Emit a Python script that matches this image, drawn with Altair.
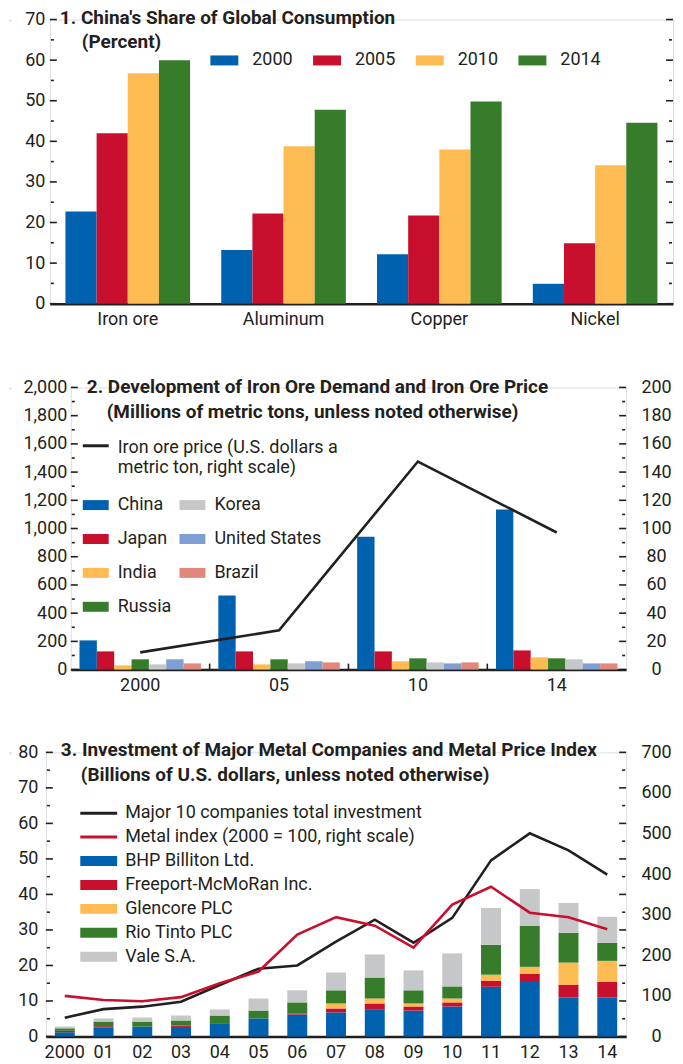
import altair as alt
import pandas as pd

FONT = "Roboto"
INK = "#231F20"
BLUE, RED, YELLOW, GREEN = "#0061AF", "#C8102E", "#FDBB52", "#377C2B"
GRAY, LBLUE, SALMON = "#C6C7C9", "#7F9FD3", "#E0887B"
LFS = 18   # label font size
TFS = 19   # title font size

# ---------------- Panel 1 data ----------------
metals = ["Iron ore", "Aluminum", "Copper", "Nickel"]
share_years = ["2000", "2005", "2010", "2014"]
share_2000 = [22.7, 13.2, 12.2, 4.9]
share_2005 = [42.0, 22.2, 21.7, 14.9]
share_2010 = [56.8, 38.8, 38.0, 34.1]
share_2014 = [60.0, 47.8, 49.8, 44.6]
title1 = ["1. China's Share of Global Consumption", "(Percent)"]

# ---------------- Panel 2 data ----------------
ore_years = ["2000", "05", "10", "14"]
countries = ["China", "Japan", "India", "Russia", "Korea", "United States", "Brazil"]
country_colors = [BLUE, RED, YELLOW, GREEN, GRAY, LBLUE, SALMON]
china = [207, 525, 941, 1134]
japan = [129, 129, 129, 136]
india = [30, 37, 59, 87]
russia = [73, 73, 80, 80]
korea = [37, 44, 51, 73]
usa = [73, 59, 44, 44]
brazil = [44, 51, 51, 44]
iron_price = [12.2, 27.8, 147.5, 97.2]
price_label = "Iron ore price (U.S. dollars a metric ton, right scale)"
title2 = ["2. Development of Iron Ore Demand and Iron Ore Price",
          "(Millions of metric tons, unless noted otherwise)"]

# ---------------- Panel 3 data ----------------
inv_years = ["2000", "01", "02", "03", "04", "05", "06", "07", "08", "09", "10", "11", "12", "13", "14"]
companies = ["BHP Billiton Ltd.", "Freeport-McMoRan Inc.", "Glencore PLC", "Rio Tinto PLC", "Vale S.A."]
company_colors = [BLUE, RED, YELLOW, GREEN, GRAY]
bhp = [1.2, 2.6, 2.8, 2.7, 3.75, 5.1, 6.2, 6.8, 7.7, 7.3, 8.45, 14.0, 15.6, 11.0, 11.0]
freeport = [0.4, 0.3, 0.0, 0.4, 0.0, 0.0, 0.3, 1.1, 1.6, 1.15, 1.15, 1.7, 2.1, 3.6, 4.4]
glencore = [0, 0, 0, 0, 0, 0, 0, 1.4, 1.4, 0.85, 1.1, 1.7, 1.9, 6.2, 5.9]
rio = [0.7, 1.3, 1.4, 1.4, 2.15, 2.2, 3.1, 3.7, 5.9, 3.7, 3.4, 8.4, 11.6, 8.4, 5.1]
vale = [0.5, 0.9, 1.15, 1.4, 1.7, 3.4, 3.4, 5.0, 6.5, 5.6, 9.3, 10.4, 10.3, 8.4, 7.3]
total_invest = [5.3, 7.7, 8.4, 9.8, 14.5, 19.1, 20.0, 26.7, 32.9, 26.4, 33.4, 49.6, 57.2, 52.4, 45.6]
metal_index = [100, 90, 87, 97, 131, 160, 251, 294, 273, 219, 325, 369, 305, 294, 264]
inv_label = "Major 10 companies total investment"
metal_label = "Metal index (2000 = 100, right scale)"
title3 = ["3. Investment of Major Metal Companies and Metal Price Index",
          "(Billions of U.S. dollars, unless noted otherwise)"]


# ---------------- helpers ----------------
def rect_path(w, h=10.0, dy=0.0):
    s = 5.0
    hw, hh, oy = w / 2 / s, h / 2 / s, dy / s
    return f"M{-hw},{oy - hh}H{hw}V{oy + hh}H{-hw}Z"


def line_path(w, dy=0.0):
    s = 5.0
    return f"M{-w / 2 / s},{dy / s}H{w / 2 / s}"


def grouped_keys(groups, members):
    """Band domain: one band per bar, one empty band between groups."""
    keys = []
    for gi, g in enumerate(groups):
        if gi > 0:
            keys.append(f"gap{gi}")
        keys += [f"{g}|{m}" for m in members]
    return keys


def left_axis(values, pad, ext, fmt=None):
    kw = dict(orient="left", values=values, ticks=False, domain=False, grid=False, labelFont=FONT,
              labelFontSize=LFS, labelColor=INK, labelPadding=pad, minExtent=ext, title=None)
    if fmt:
        kw["format"] = fmt
    return alt.Axis(**kw)


def right_axis(values, labels=True):
    return alt.Axis(orient="right", values=values, ticks=False, domain=False, grid=False, labels=labels,
                    labelFont=FONT, labelFontSize=LFS, labelColor=INK, labelAlign="center",
                    labelPadding=30, title=None)


def bottom_axis(**extra):
    kw = dict(orient="bottom", domain=True, domainColor=INK, domainWidth=2.5, ticks=False,
              labelAngle=0, labelFont=FONT, labelFontSize=LFS, labelColor=INK, labelPadding=7,
              labelOverlap=False, title=None)
    kw.update(extra)
    return alt.Axis(**kw)


def tick_rules(values, domain, x1, x2, axis=None):
    return alt.Chart(pd.DataFrame({"v": values})).mark_rule(color=INK, strokeWidth=1.6).encode(
        x=alt.value(x1), x2=alt.value(x2),
        y=alt.Y("v:Q", scale=alt.Scale(domain=domain), axis=axis))


def y_ticks(major, minor, domain, width):
    """Inward major and minor tick marks on both vertical edges."""
    return [tick_rules(major, domain, 0, 7), tick_rules(minor, domain, 1, 4),
            tick_rules(major, domain, width - 7, width), tick_rules(minor, domain, width - 4, width - 1)]


def title_text(text, x, y):
    return alt.Chart(pd.DataFrame({"t": [text]})).mark_text(
        align="left", baseline="middle", font=FONT, fontSize=TFS, fontWeight="bold", color=INK
    ).encode(text="t:N", x=alt.value(x), y=alt.value(y))


def legend(x, y, sym, lo, rowpad=0, colpad=0, columns=1, direction="vertical", stroke=False, expr=None):
    kw = dict(orient="none", legendX=x, legendY=y, direction=direction, columns=columns, title=None,
              symbolType=sym, symbolSize=100, labelFont=FONT, labelFontSize=LFS, labelColor=INK,
              labelOffset=lo, rowPadding=rowpad, columnPadding=colpad, padding=0, labelLimit=400,
              symbolStrokeWidth=3 if stroke else 0)
    if expr:
        kw["labelExpr"] = expr
    return alt.Legend(**kw)


def spacer(w):
    return alt.Chart(pd.DataFrame({"s": [0]})).mark_rect(opacity=0).encode(
        x=alt.value(0), x2=alt.value(w), y=alt.value(0), y2=alt.value(1)
    ).properties(width=w, height=1)


# ---------------- Panel 1 ----------------
W1, H1 = 625, 285
keys1 = grouped_keys(metals, share_years)
half_step1 = W1 / (len(keys1) + 1) / 2
df1 = pd.DataFrame({
    "key": [f"{m}|{y}" for y in share_years for m in metals],
    "year": [y for y in share_years for _ in metals],
    "share": share_2000 + share_2005 + share_2010 + share_2014,
})
bars1 = alt.Chart(df1).mark_bar().encode(
    x=alt.X("key:N", scale=alt.Scale(domain=keys1, paddingInner=0, paddingOuter=0.5),
            axis=bottom_axis(values=[f"{m}|{share_years[1]}" for m in metals], labelOffset=half_step1,
                             labelExpr="split(datum.value, '|')[0]")),
    y=alt.Y("share:Q", scale=alt.Scale(domain=[0, 70]), axis=left_axis(list(range(0, 71, 10)), 5, 37)),
    color=alt.Color("year:N", scale=alt.Scale(domain=share_years, range=[BLUE, RED, YELLOW, GREEN]),
                    legend=legend(166, 32, rect_path(28), 19, colpad=20, columns=4, direction="horizontal")),
)
major1, minor1 = list(range(0, 71, 10)), list(range(5, 70, 10))
ticks1 = y_ticks(major1, minor1, [0, 70], W1)
ticks1[2] = tick_rules(major1, [0, 70], W1 - 7, W1, axis=right_axis(major1, labels=False))
panel1 = alt.layer(
    bars1, *ticks1, title_text(title1[0], 10, -2), title_text(title1[1], 32, 23)
).resolve_scale(y="independent").properties(width=W1, height=H1)

# ---------------- Panel 2 ----------------
W2, H2 = 557, 283
keys2 = grouped_keys(ore_years, countries)
xscale2 = alt.Scale(domain=keys2, paddingInner=0, paddingOuter=0.5)
mid_country = countries[len(countries) // 2]


def xaxis2():
    return bottom_axis(values=[f"{yr}|{mid_country}" for yr in ore_years],
                       labelExpr="split(datum.value, '|')[0]")


series2 = [china, japan, india, russia, korea, usa, brazil]
df2 = pd.DataFrame([{"key": f"{yr}|{c}", "country": c, "tons": vals[i]}
                    for c, vals in zip(countries, series2) for i, yr in enumerate(ore_years)])
bars2 = alt.Chart(df2).mark_bar().encode(
    x=alt.X("key:N", scale=xscale2, axis=xaxis2()),
    y=alt.Y("tons:Q", scale=alt.Scale(domain=[0, 2000]),
            axis=left_axis(list(range(0, 2001, 200)), 4, 58, fmt=",d")),
    color=alt.Color("country:N", scale=alt.Scale(domain=countries, range=country_colors),
                    legend=legend(16, 109, rect_path(26), 13, rowpad=16, colpad=8, columns=2)),
)
group_ticks = alt.Chart(pd.DataFrame({"key": [k for k in keys2 if k.startswith("gap")]})).mark_rule(
    color=INK, strokeWidth=1.6).encode(
    x=alt.X("key:N", scale=xscale2, axis=xaxis2()),
    y=alt.value(H2 - 6), y2=alt.value(H2),
)
df_price = pd.DataFrame({"key": [f"{yr}|{mid_country}" for yr in ore_years], "price": iron_price,
                         "series": [price_label] * len(ore_years)})
line2 = alt.Chart(df_price).mark_line(strokeWidth=2.6).encode(
    x=alt.X("key:N", scale=xscale2, sort=keys2, axis=xaxis2()),
    y=alt.Y("price:Q", scale=alt.Scale(domain=[0, 200]), axis=right_axis(list(range(0, 201, 20)))),
    stroke=alt.Stroke("series:N", scale=alt.Scale(domain=[price_label], range=[INK]),
                      legend=legend(16, 52, line_path(26, -2.5), 13, stroke=True,
                                    expr="[slice(datum.label, 0, 30), slice(datum.label, 31)]")),
)
ticks2 = y_ticks(list(range(0, 2001, 200)), list(range(100, 2000, 200)), [0, 2000], W2)
panel2 = alt.layer(
    bars2, group_ticks, line2, *ticks2, title_text(title2[0], 16, 0), title_text(title2[1], 36, 25)
).resolve_scale(y="independent").properties(width=W2, height=H2)

# ---------------- Panel 3 ----------------
W3, H3 = 582, 285
comp_values = [bhp, freeport, glencore, rio, vale]
df3 = pd.DataFrame([{"year": yr, "company": c, "idx": k, "inv": vals[i]}
                    for k, (c, vals) in enumerate(zip(companies, comp_values))
                    for i, yr in enumerate(inv_years)])
xscale3 = alt.Scale(paddingInner=0.485, paddingOuter=0.23)
stroke3 = alt.Scale(domain=[inv_label, metal_label], range=[INK, RED])
leg3 = legend(44, 52, line_path(37), 17.5, rowpad=6, stroke=True)
bars3 = alt.Chart(df3).mark_bar().encode(
    x=alt.X("year:N", sort=inv_years, scale=xscale3, axis=bottom_axis()),
    y=alt.Y("inv:Q", stack="zero", scale=alt.Scale(domain=[0, 80]),
            axis=left_axis(list(range(0, 81, 10)), 8, 33)),
    color=alt.Color("company:N", scale=alt.Scale(domain=companies, range=company_colors),
                    legend=legend(44, 100, rect_path(37), 17.5, rowpad=6)),
    order=alt.Order("idx:Q", sort="ascending"),
)
df_inv = pd.DataFrame({"year": inv_years, "total": total_invest, "series": [inv_label] * 15})
df_met = pd.DataFrame({"year": inv_years, "index": metal_index, "series": [metal_label] * 15})
inv_line = alt.Chart(df_inv).mark_line(strokeWidth=2.6).encode(
    x=alt.X("year:N", sort=inv_years, scale=xscale3, axis=bottom_axis()),
    y=alt.Y("total:Q", scale=alt.Scale(domain=[0, 80]), axis=None),
    stroke=alt.Stroke("series:N", scale=stroke3, legend=leg3),
)
met_line = alt.Chart(df_met).mark_line(strokeWidth=2.6).encode(
    x=alt.X("year:N", sort=inv_years, scale=xscale3, axis=bottom_axis()),
    y=alt.Y("index:Q", scale=alt.Scale(domain=[0, 700]), axis=right_axis(list(range(0, 701, 100)))),
    stroke=alt.Stroke("series:N", scale=stroke3, legend=leg3),
)
ticks3 = y_ticks(list(range(0, 81, 10)), list(range(5, 80, 10)), [0, 80], W3)
panel3 = alt.layer(
    bars3, inv_line, met_line, *ticks3, title_text(title3[0], 15, -2), title_text(title3[1], 35, 23)
).resolve_scale(y="independent").properties(width=W3, height=H3)


def wrap(p):
    return alt.hconcat(spacer(2), p, spacing=0).resolve_scale(
        color="independent", stroke="independent").resolve_legend(color="independent", stroke="independent")


lower = alt.vconcat(wrap(panel2), wrap(panel3), spacing=45).resolve_scale(
    color="independent", stroke="independent").resolve_legend(color="independent", stroke="independent")

chart = alt.vconcat(wrap(panel1), lower, spacing=48).resolve_scale(
    color="independent", stroke="independent"
).resolve_legend(color="independent", stroke="independent").properties(
    padding={"top": -2, "left": 0, "right": 0, "bottom": 0}
).configure_view(stroke="transparent").configure(font=FONT)

chart.save("out.html", embed_options={"renderer": "svg", "actions": False})
